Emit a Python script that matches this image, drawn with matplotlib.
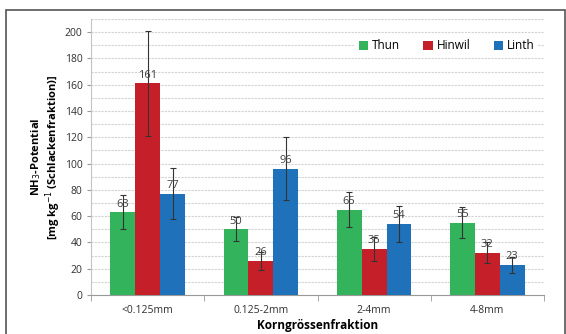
import numpy as np
import matplotlib
matplotlib.use('Agg')
from matplotlib import pyplot as plt
from matplotlib.patches import Rectangle

plt.rcParams['font.family'] = ['Open Sans', 'DejaVu Sans']

categories = ['<0.125mm', '0.125-2mm', '2-4mm', '4-8mm']
series = ['Thun', 'Hinwil', 'Linth']
thun = [63, 50, 65, 55]
hinwil = [161, 26, 35, 32]
linth = [77, 96, 54, 23]
thun_err = [13, 9, 13, 12]
hinwil_err = [40, 7, 9, 8]
linth_err = [19.5, 24, 13.5, 6]
colors = ['#33b35c', '#c5202a', '#1f72ba']

values = [thun, hinwil, linth]
errors = [thun_err, hinwil_err, linth_err]

fig = plt.figure(figsize=(5.66, 3.34), dpi=100)
ax = fig.add_axes([91/566, 1 - 295/334, (544-91)/566, (295-19)/334])

x = np.arange(len(categories))
width = 0.22
for i, name in enumerate(series):
    pos = x + (i - 1) * width
    ax.bar(pos, values[i], width, color=colors[i], label=name, zorder=3)
    ax.errorbar(pos, values[i], yerr=errors[i], fmt='none', ecolor='#333333',
                elinewidth=0.8, capsize=2, capthick=0.8, zorder=4)
    for p, v in zip(pos, values[i]):
        ax.text(p, v + 2, str(v), ha='center', va='bottom', fontsize=8,
                color='#404040', zorder=5)

ax.set_xlim(-0.5, len(categories) - 0.5)
ax.set_ylim(0, 210)
ax.set_yticks(np.arange(0, 201, 20))
ax.set_yticks(np.arange(0, 211, 10), minor=True)
ax.yaxis.grid(True, which='both', color='#d2d2d2', linestyle=(0, (2, 1)), linewidth=0.8, zorder=0)
ax.set_axisbelow(True)

ax.set_xticks(x)
ax.set_xticklabels(categories, fontsize=7.5, color='#303030')
ax.set_xticks(np.arange(-0.5, len(categories), 1), minor=True)
ax.tick_params(axis='x', which='major', length=0, pad=7)
ax.tick_params(axis='x', which='minor', length=4, color='#999999', direction='out')
ax.tick_params(axis='y', which='major', labelsize=7.5, labelcolor='#303030', length=3,
               color='#999999', pad=3)
ax.tick_params(axis='y', which='minor', length=0)

for s in ['top', 'right']:
    ax.spines[s].set_visible(False)
ax.spines['left'].set_color('#c4c4c4')
ax.spines['bottom'].set_color('#999999')

ax.set_ylabel('NH$_3$-Potential\n[mg kg$^{-1}$ (Schlackenfraktion)]', fontsize=8,
              fontweight='bold', labelpad=1, linespacing=1.05)
ax.set_xlabel('Korngrössenfraktion', fontsize=8.5, fontweight='bold', labelpad=2)

leg = ax.legend(loc='upper right', bbox_to_anchor=(1.0, 0.96), ncol=3, frameon=True,
                fontsize=8.5, handlelength=0.8, handleheight=0.8, handletextpad=0.3,
                columnspacing=2.0, borderpad=0.3)
leg.get_frame().set_facecolor('white')
leg.get_frame().set_edgecolor('none')
leg.get_frame().set_alpha(1)

fig.patches.append(Rectangle((6/566, -0.05), (565-6)/566, 1.05 - 10/334,
                             transform=fig.transFigure, fill=False,
                             edgecolor='#555555', linewidth=1.2))

fig.savefig('out.png', dpi=100)
